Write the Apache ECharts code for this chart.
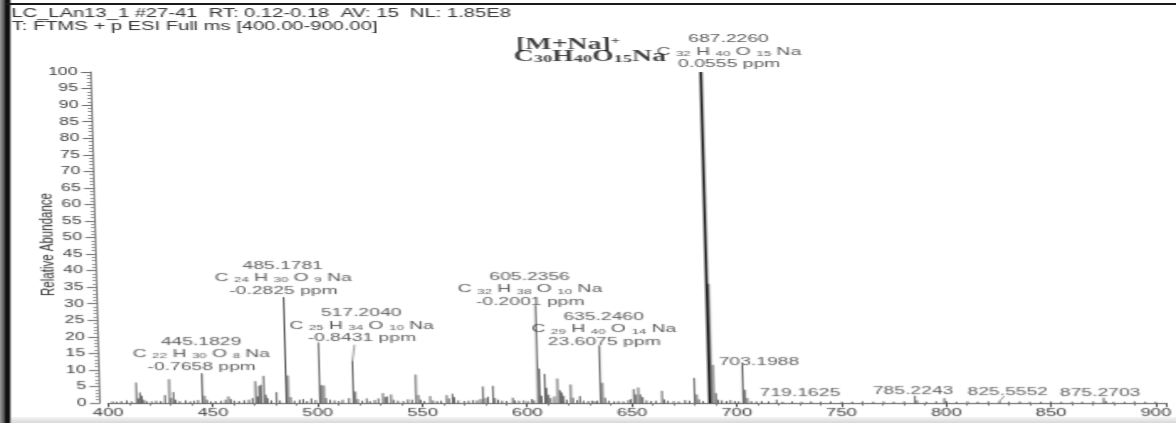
<!DOCTYPE html>
<html><head><meta charset="utf-8">
<script src="https://cdn.jsdelivr.net/npm/echarts@6/dist/echarts.min.js"></script>
<style>
html,body{margin:0;padding:0;background:#fff;width:1176px;height:423px;overflow:hidden;position:relative}
#chart{position:absolute;left:0;top:0;width:700px;height:423px;transform-origin:0 403px;transform:skewX(1.55deg) scaleX(1.68);z-index:2}
.fl{position:absolute;left:0;top:0;width:12px;height:423px;background:linear-gradient(to right,#9a9a9a 0,#555 4px,#111 6px,#111 9px,#bbb 11px,rgba(255,255,255,0) 12px);z-index:3}
.ft{position:absolute;left:6px;top:3px;width:1170px;height:2px;background:#1a1a1a;z-index:3}
.fb{position:absolute;left:0;bottom:0;width:1176px;height:6px;background:linear-gradient(to bottom,#f4f4f4,#d8d8d8);z-index:1}
</style></head>
<body>
<div id="chart"></div>
<div class="fl"></div><div class="ft"></div><div class="fb"></div>
<script>
// ---------------- data ----------------
var peakMz = [402.2,404.1,406.3,409.0,411.2,413.6,414.5,415.3,416.2,417.2,418.4,420.8,423.0,425.2,427.2,429.4,430.2,431.3,432.3,434.2,437.1,439.2,441.0,443.0,
445.1829,446.2,447.2,449.1,451.3,454.0,456.1,457.5,458.6,460.2,462.5,465.0,467.2,469.0,470.5,471.5,472.2,473.2,474.5,475.4,476.2,478.0,480.5,482.1,
485.1781,486.2,487.2,489.0,491.5,493.2,495.0,497.1,499.1,501.15,502.2,503.2,504.1,506.0,508.1,510.2,512.0,515.1,
517.2040,518.2,519.2,521.3,523.5,525.0,527.3,529.1,531.3,532.3,533.2,535.2,536.3,538.4,541.0,543.2,545.1,547.15,548.2,549.3,551.0,553.8,555.2,557.1,559.0,
561.7,562.7,564.5,565.3,567.2,570.0,572.1,574.3,576.2,577.8,579.1,580.2,581.4,583.9,584.8,586.2,588.1,590.3,593.2,594.3,596.2,598.5,600.3,602.4,603.3,
605.2356,606.2,607.1,608.7,609.5,610.4,611.3,613.1,614.7,615.8,616.7,617.6,619.0,621.0,622.0,624.0,625.3,627.0,629.2,631.0,632.3,633.5,
635.2460,636.2,637.3,639.0,641.5,643.6,646.0,648.4,649.6,651.0,652.1,653.2,654.2,655.3,657.1,659.2,661.5,664.5,665.5,667.3,670.0,672.4,675.5,677.6,
680.1,681.1,682.1,684.0,687.2260,688.23,689.23,690.23,691.2,693.0,695.3,697.1,699.2,701.0,703.1988,704.2,705.2,707.0,709.5,712.0,715.3,719.1625,
722.0,726.5,731.0,735.6,740.2,745.0,750.3,755.2,760.1,765.3,770.2,775.0,780.0,785.2243,786.2,790.5,795.3,799.2,800.2,805.0,810.3,815.1,820.2,
825.5552,830.0,835.2,840.0,845.3,850.1,855.0,860.2,865.0,870.3,875.2703,876.3,880.0,885.2,890.0,895.1,900.0];
var peakAbundance = [0.5,0.4,0.6,0.8,0.5,6.2,1.4,3.2,2.2,1.0,0.6,0.5,0.7,0.6,2.4,7.2,1.5,3.3,1.0,0.6,0.8,0.5,0.7,0.9,
9.0,2.2,1.0,0.5,0.6,0.7,1.0,2.0,1.2,0.7,0.6,0.8,1.0,1.5,6.6,2.0,5.2,5.5,8.2,2.5,1.5,0.8,3.3,0.8,
32.0,8.3,1.8,0.7,1.0,1.2,0.6,1.4,0.9,18.3,5.4,5.3,1.5,1.0,0.8,0.6,1.0,1.5,
12.8,3.5,1.2,0.7,1.4,0.6,0.9,1.4,3.0,1.8,2.0,2.6,1.0,0.7,0.6,1.1,1.0,8.6,2.4,1.0,0.6,2.1,0.8,0.6,0.7,
2.4,1.4,2.8,1.8,0.8,0.6,0.7,0.9,0.8,1.2,5.0,1.5,1.9,5.2,1.5,1.0,0.7,0.6,1.6,0.8,0.7,0.8,0.6,1.2,0.8,
29.5,10.4,2.2,8.8,4.6,2.5,1.5,2.0,7.4,3.9,3.2,2.2,1.0,5.6,1.6,0.9,2.1,0.7,0.6,0.7,0.6,0.7,
17.4,6.1,1.6,0.7,0.5,0.6,0.5,0.9,1.2,4.2,2.6,4.7,2.6,1.8,0.8,0.6,0.7,3.7,1.1,0.7,0.6,0.5,0.9,0.7,
7.6,2.6,1.1,0.6,100,36,11.5,3.0,1.0,0.8,0.6,0.9,0.6,0.5,11.6,4.0,1.5,0.6,0.5,0.6,0.5,1.0,
0.4,0.5,0.4,0.5,0.4,0.5,0.4,0.4,0.5,0.4,0.5,0.4,0.5,2.2,0.8,0.4,0.5,1.5,0.6,0.4,0.5,0.4,0.5,
0.6,0.4,0.5,0.4,0.4,0.5,0.4,0.4,0.4,0.5,1.6,0.6,0.4,0.4,0.5,0.4,0.4];

var labelMz      = [445.1829, 485.1781, 517.2040, 605.2356, 635.2460, 687.2260, 703.1988, 719.1625, 785.2243, 825.5552, 875.2703];
var labelMass    = ['445.1829','485.1781','517.2040','605.2356','635.2460','687.2260','703.1988','719.1625','785.2243','825.5552','875.2703'];
var labelFormula = ['C22H30O8Na','C24H30O9Na','C25H34O10Na','C32H38O10Na','C29H40O14Na','C32H40O15Na','','','','',''];
var labelPpm     = ['-0.7658','-0.2825','-0.8431','-0.2001','23.6075','0.0555','','','','',''];

var ionLabel     = '[M+Na]';
var ionCharge    = '+';
var ionFormula   = 'C30H40O15Na';
var ionMz        = 687.2260;

var xTicks = [400,450,500,550,600,650,700,750,800,850,900];
var yTicks = [0,5,10,15,20,25,30,35,40,45,50,55,60,65,70,75,80,85,90,95,100];

var headerLine1 = 'LC_LAn13_1 #27-41  RT: 0.12-0.18  AV: 15  NL: 1.85E8';
var headerLine2 = 'T: FTMS + p ESI Full ms [400.00-900.00]';
var yName = 'Relative Abundance';

// ---------------- layout (not data) ----------------
var labelDx  = [0, 0, 6, -3, 3, 17, 10, 14, -1, 5, -2];
var labelDy  = [1, 1, 2, 4, 3, 2, 6, 3, 4, 4, 4];
var labelGap = [1, 1, 18, 1, 0, 3, 2, 3, 2, 6, 2];
// leader lines: label index -> [dx, dy] of the leader's upper end relative to the peak top (px)
var leaders = [[2, 1.5, -16], [9, 3, -5]];

// ---------------- build ----------------
function abundanceAt(mz){
  var best = 0, bd = 1e9;
  for (var i = 0; i < peakMz.length; i++){ var d = Math.abs(peakMz[i]-mz); if (d < bd){ bd = d; best = i; } }
  return peakAbundance[best];
}
function formulaRich(f){
  return f.replace(/([A-Z][a-z]?)(\d*)/g, function(_, el, n){ return el + (n ? ' {s|' + n + '} ' : ''); }).trim();
}
function formulaBold(f){
  return f.replace(/([A-Z][a-z]?)(\d*)/g, function(_, el, n){ return '{b|' + el + '}' + (n ? '{bs|' + n + '}' : ''); });
}
var peakData = peakMz.map(function(m, i){ return [m, peakAbundance[i]]; });

var labelData = labelMz.map(function(m, i){
  var lines = [labelMass[i]];
  if (labelFormula[i]) lines.push(formulaRich(labelFormula[i]));
  if (labelPpm[i]) lines.push(labelPpm[i] + ' ppm');
  return {
    value: [m, abundanceAt(m)],
    label: { show: true, position: 'top', distance: labelGap[i], offset: [labelDx[i], labelDy[i]], formatter: lines.join('\n') }
  };
});
labelData.push({
  value: [ionMz, abundanceAt(ionMz)],
  label: { show: true, position: [-78, -27], align: 'center', verticalAlign: 'middle',
           formatter: '{b|' + ionLabel + '}{sup|' + ionCharge + '}' }
});
labelData.push({
  value: [ionMz, abundanceAt(ionMz)],
  label: { show: true, position: [-20, -15], align: 'right', verticalAlign: 'middle',
           formatter: formulaBold(ionFormula) }
});
var leaderData = leaders.map(function(l){ var m = labelMz[l[0]]; return [m, abundanceAt(m), l[1], l[2]]; });

var FONT = 'Liberation Sans, Arial, sans-serif';
var SERIF = 'Liberation Serif, Times New Roman, serif';
var TXT = '#333';
var chart = echarts.init(document.getElementById('chart'), null, { renderer: 'canvas' });
chart.setOption({
  animation: false,
  backgroundColor: 'transparent',
  title: {
    text: headerLine1 + '\n' + headerLine2,
    left: 13, top: 7, padding: 0,
    textStyle: { fontFamily: FONT, fontSize: 12, lineHeight: 13, fontWeight: 'normal', color: TXT }
  },
  grid: { left: 64.3, right: 1.5, top: 72, bottom: 20, containLabel: false },
  xAxis: {
    type: 'value',
    min: xTicks[0], max: 905, interval: xTicks[1] - xTicks[0],
    axisLine: { show: true, lineStyle: { color: '#555', width: 1 } },
    axisTick: { show: true, length: 4, lineStyle: { color: '#555' } },
    minorTick: { show: true, splitNumber: 5, length: 2.5, lineStyle: { color: '#777' } },
    axisLabel: { fontFamily: FONT, fontSize: 11, color: '#3a3a3a', margin: 4, showMaxLabel: false,
                 formatter: function(v){ return xTicks.indexOf(v) >= 0 ? String(v) : ''; } },
    splitLine: { show: false }, minorSplitLine: { show: false }
  },
  yAxis: {
    type: 'value',
    min: yTicks[0], max: yTicks[yTicks.length - 1], interval: yTicks[1] - yTicks[0],
    offset: 4.8,
    name: yName, nameLocation: 'middle', nameRotate: 90, nameGap: 23, nameMoveOverlap: false,
    nameTextStyle: { fontFamily: FONT, fontSize: 11.5, color: TXT, padding: [0, 14, 0, 0] },
    axisLine: { show: true, lineStyle: { color: '#555', width: 0.8 } },
    axisTick: { show: true, length: 6, lineStyle: { color: '#666' } },
    minorTick: { show: true, splitNumber: 5, length: 2.5, lineStyle: { color: '#888' } },
    axisLabel: { fontFamily: FONT, fontSize: 10.5, color: '#3a3a3a', margin: 8 },
    splitLine: { show: false }, minorSplitLine: { show: false }
  },
  series: [
    {
      type: 'custom',
      name: 'spectrum',
      silent: true,
      encode: { x: 0, y: 1 },
      data: peakData,
      renderItem: function(params, api){
        var x = api.value(0), y = api.value(1);
        var p0 = api.coord([x, 0]), p1 = api.coord([x, y]);
        return { type: 'line', shape: { x1: p0[0], y1: p0[1], x2: p1[0], y2: p1[1] },
                 style: { stroke: y >= 90 ? '#111' : '#2e2e2e', lineWidth: y >= 90 ? 1.7 : 0.75 } };
      },
      z: 2
    },
    {
      type: 'custom',
      name: 'leaders',
      silent: true,
      encode: { x: 0, y: 1 },
      data: leaderData,
      renderItem: function(params, api){
        var p = api.coord([api.value(0), api.value(1)]);
        return { type: 'line', shape: { x1: p[0], y1: p[1], x2: p[0] + api.value(2), y2: p[1] + api.value(3) },
                 style: { stroke: '#555', lineWidth: 0.6 } };
      },
      z: 2
    },
    {
      type: 'scatter',
      name: 'annotations',
      silent: true,
      symbolSize: 1,
      itemStyle: { color: 'rgba(0,0,0,0)' },
      data: labelData,
      label: {
        show: true, fontFamily: FONT, fontSize: 11.5, lineHeight: 12.5, color: TXT,
        rich: {
          s:   { fontFamily: FONT, fontSize: 8, lineHeight: 12.5, verticalAlign: 'bottom', color: TXT },
          b:   { fontFamily: SERIF, fontWeight: 'bold', fontSize: 16.5, color: '#111' },
          bs:  { fontFamily: SERIF, fontWeight: 'bold', fontSize: 11, color: '#111', verticalAlign: 'bottom', lineHeight: 17 },
          sup: { fontFamily: SERIF, fontWeight: 'bold', fontSize: 10, color: '#111', verticalAlign: 'top', lineHeight: 17 }
        }
      },
      z: 3
    }
  ]
});
</script></body></html>
